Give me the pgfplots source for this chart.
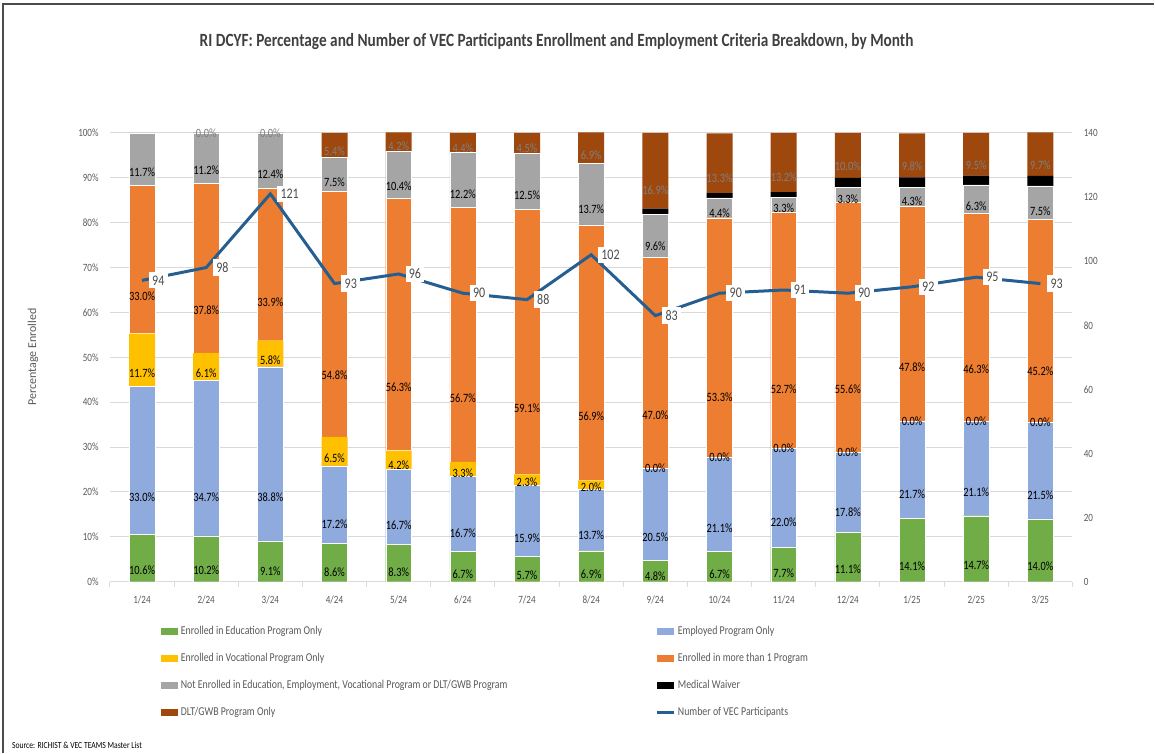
\documentclass[border=0pt]{standalone}
\usepackage{pgfplots}
\pgfplotsset{compat=1.18}
\usepackage{pgfplotstable}
\usepackage{fontspec}
\setmainfont{Carlito}[FakeStretch=0.82]
\newfontfamily\plainfont{Carlito}
\definecolor{cEdu}{HTML}{70AD47}
\definecolor{cEmp}{HTML}{8FAADC}
\definecolor{cVoc}{HTML}{FFC000}
\definecolor{cMore}{HTML}{ED7D31}
\definecolor{cNot}{HTML}{A5A5A5}
\definecolor{cMed}{HTML}{000000}
\definecolor{cDlt}{HTML}{9E480E}
\definecolor{cLine}{HTML}{255E91}
\definecolor{cGrid}{HTML}{D9D9D9}
\definecolor{cTxt}{HTML}{595959}

% 0.01 stands for a labelled 0.0% segment (drawn with no visible height)
\pgfplotstableread{
x edu emp voc more notenr med dlt count
0 10.6 33.0 11.7 33.0 11.7 0 0 94
1 10.2 34.7 6.1 37.8 11.2 0 0.01 98
2 9.1 38.8 5.8 33.9 12.4 0 0.01 121
3 8.6 17.2 6.5 54.8 7.5 0 5.4 93
4 8.3 16.7 4.2 56.3 10.4 0 4.2 96
5 6.7 16.7 3.3 56.7 12.2 0 4.4 90
6 5.7 15.9 2.3 59.1 12.5 0 4.5 88
7 6.9 13.7 2.0 56.9 13.7 0 6.9 102
8 4.8 20.5 0.01 47.0 9.6 1.2 16.9 83
9 6.7 21.1 0.01 53.3 4.4 1.1 13.3 90
10 7.7 22.0 0.01 52.7 3.3 1.1 13.2 91
11 11.1 17.8 0.01 55.6 3.3 2.2 10.0 90
12 14.1 21.7 0.01 47.8 4.3 2.2 9.8 92
13 14.7 21.1 0.01 46.3 6.3 2.1 9.5 95
14 14.0 21.5 0.01 45.2 7.5 2.2 9.7 93
}\data

\def\zerotxt{0}
\pgfplotsset{
  sw/.style={legend image code/.code={\fill[##1, draw=none] (0pt,-2.6pt) rectangle (12.75pt,2.6pt);}},
  lab/.style={
    point meta=explicit symbolic,
    nodes near coords={\ifx\pgfplotspointmeta\zerotxt\else\pgfmathprintnumber[fixed,fixed zerofill,precision=1]{\pgfplotspointmeta}\%\fi},
    every node near coord/.append style={anchor=center, yshift=-\pgfplotspointmeta*0.841875pt,
      font=\fontsize{9.5}{11}\selectfont, text=black, inner sep=0pt},
  },
}

\begin{document}
\begin{tikzpicture}
\path (-82.5pt,-128.25pt) rectangle (783.75pt,436.5pt);
\draw[color=black!70, line width=0.9pt] (-80.25pt,-128.25pt) -- (-80.25pt,433.5pt) -- (783.75pt,433.5pt);
\begin{axis}[
  set layers, mark layer=axis foreground,
  at={(0pt,0pt)}, anchor=south west,
  scale only axis, width=722.25pt, height=337.42pt,
  ybar stacked, bar width=19.5pt,
  xmin=-0.5, xmax=14.5, ymin=0, ymax=100.2,
  xtick={0,...,14},
  xticklabels={1/24,2/24,3/24,4/24,5/24,6/24,7/24,8/24,9/24,10/24,11/24,12/24,1/25,2/25,3/25},
  minor xtick={-0.5,0.5,...,14.5},
  major tick length=0pt, minor tick length=3.75pt, tick align=outside,
  minor tick style={cGrid, line width=0.75pt},
  ytick={0,10,...,100},
  yticklabel={\pgfmathprintnumber{\tick}\%},
  /pgf/number format/assume math mode=true,
  ymajorgrids, grid style={cGrid, line width=0.75pt},
  axis x line*=bottom, axis y line*=left,
  y axis line style={draw=none},
  x axis line style={cGrid, line width=0.75pt},
  tick label style={font=\fontsize{8.3}{10}\selectfont, text=cTxt},
  xticklabel style={yshift=-7pt},
  yticklabel style={xshift=-5pt},
  ylabel={Percentage Enrolled},
  ylabel style={at={(axis description cs:-0.08,0.5)}, anchor=center,
    font=\plainfont\fontsize{9}{11}\selectfont, text=cTxt},
  title={RI DCYF: Percentage and Number of VEC Participants Enrollment and Employment Criteria Breakdown, by Month},
  title style={at={(axis description cs:0.464,1.183)}, anchor=center,
    font=\bfseries\fontsize{14}{16}\selectfont, text=black!75},
  legend columns=2,
  legend cell align=left,
  legend style={at={(axis description cs:0.0488,-0.087)}, anchor=north west,
    draw=none, fill=none, font=\fontsize{9}{10.5}\selectfont, text=cTxt,
    /tikz/row sep=8.4pt},
]
\addplot[fill=cEdu, draw=white, line width=0.3pt, sw, lab] table[x=x,y=edu,meta=edu]{\data};
\addlegendentry{\makebox[354pt][l]{Enrolled in Education Program Only}}
\addplot[fill=cEmp, draw=white, line width=0.3pt, sw, lab] table[x=x,y=emp,meta=emp]{\data};
\addlegendentry{Employed Program Only}
\addplot[fill=cVoc, draw=none, sw, lab] table[x=x,y=voc,meta=voc]{\data};
\addlegendentry{\makebox[354pt][l]{Enrolled in Vocational Program Only}}
\addplot[fill=cMore, draw=white, line width=0.3pt, sw, lab] table[x=x,y=more,meta=more]{\data};
\addlegendentry{Enrolled in more than 1 Program}
\addplot[fill=cNot, draw=white, line width=0.3pt, sw, lab] table[x=x,y=notenr,meta=notenr]{\data};
\addlegendentry{\makebox[354pt][l]{Not Enrolled in Education, Employment, Vocational Program or DLT/GWB Program}}
\addplot[fill=cMed, draw=none, sw] table[x=x,y=med]{\data};
\addlegendentry{Medical Waiver}
\addplot[fill=cDlt, draw=none, sw, lab,
  every node near coord/.append style={text=black!50}] table[x=x,y=dlt,meta=dlt]{\data};
\addlegendentry{\makebox[354pt][l]{DLT/GWB Program Only}}
\addlegendimage{legend image code/.code={\draw[cLine, line width=2.25pt] (0pt,0pt) -- (12.75pt,0pt);}}
\addlegendentry{Number of VEC Participants}
\end{axis}
\begin{axis}[
  at={(0pt,0pt)}, anchor=south west,
  scale only axis, width=722.25pt, height=336.75pt,
  xmin=-0.5, xmax=14.5, ymin=0, ymax=140,
  axis x line=none, axis y line*=right,
  y axis line style={draw=none},
  ytick={0,20,...,140}, major tick length=0pt,
  /pgf/number format/assume math mode=true,
  tick label style={font=\fontsize{8.3}{10}\selectfont, text=cTxt},
  yticklabel style={xshift=5pt},
]
\addplot[cLine, line width=2.25pt, mark=none,
  nodes near coords, point meta=explicit,
  every node near coord/.append style={anchor=west, fill=white, text=black!70,
    font=\fontsize{11}{13}\selectfont, inner sep=2.5pt, xshift=4pt}]
  table[x=x,y=count,meta=count]{\data};
\end{axis}
\node[anchor=west, font=\fontsize{7}{8}\selectfont, text=black] at (-77pt,-123pt) {Source: RICHIST \& VEC TEAMS Master List};
\end{tikzpicture}
\end{document}
